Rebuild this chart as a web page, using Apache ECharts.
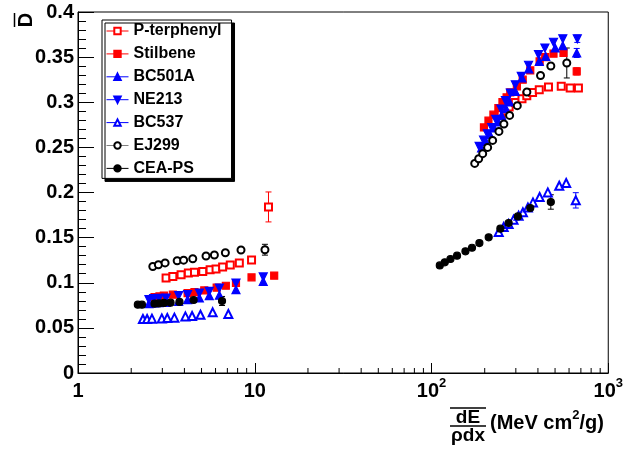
<!DOCTYPE html>
<html><head><meta charset="utf-8">
<script src="https://cdn.jsdelivr.net/npm/echarts@6/dist/echarts.min.js"></script>
<style>html,body{margin:0;padding:0;background:#fff}#c{width:626px;height:453px}</style>
</head><body><div id="c"></div>
<script>
// ---- data ----
const seriesNames = ['P-terphenyl', 'Stilbene', 'BC501A', 'NE213', 'BC537', 'EJ299', 'CEA-PS'];

const pterX = [3.15, 3.44, 3.83, 4.21, 4.56, 5.08, 5.59, 6.04, 6.58, 7.27, 8.18, 9.59, 11.96,
  248, 262, 275, 298, 325, 346, 373, 407, 459, 542, 609, 678];
const pterY = [0.1053, 0.107, 0.1089, 0.1108, 0.1115, 0.1126, 0.1145, 0.1152, 0.1174, 0.1197, 0.1219, 0.1252, 0.184,
  0.2865, 0.2906, 0.2947, 0.2998, 0.3039, 0.3073, 0.3109, 0.3139, 0.3169, 0.3176, 0.3158, 0.3158];
const pterErr = [[12, 0.0166]];

const stilX = [2.71, 2.89, 3.06, 3.44, 4.17, 4.56, 5.18, 6.09, 6.86, 7.83, 9.59, 12.88,
  198, 210, 224, 239, 252, 266, 279, 304, 328, 362, 409, 440, 490, 558, 663];
const stilY = [0.0842, 0.0849, 0.0857, 0.0868, 0.0886, 0.0897, 0.0915, 0.0945, 0.0967, 0.0997, 0.106, 0.1078,
  0.2721, 0.2796, 0.2862, 0.2936, 0.3003, 0.3054, 0.3109, 0.3176, 0.325, 0.3353, 0.3453, 0.350, 0.3538, 0.3546, 0.3342];
const stilErr = [[11, 0.003], [26, 0.004]];

const bc501X = [2.52, 2.68, 2.87, 3.15, 3.71, 4.17, 4.86, 5.53, 6.31, 7.83, 11.17,
  192, 203, 214, 226, 239, 249, 264, 276, 298, 325, 355, 407, 443, 501, 553, 663];
const bc501Y = [0.0768, 0.0776, 0.0779, 0.0782, 0.0793, 0.0812, 0.0831, 0.0857, 0.0862, 0.0923, 0.1015,
  0.2493, 0.2566, 0.264, 0.2715, 0.2781, 0.2854, 0.2929, 0.3003, 0.312, 0.3269, 0.337, 0.3453, 0.3508, 0.3601, 0.3627, 0.3546];
const bc501Err = [[26, 0.005]];

const ne213X = [2.52, 2.68, 2.87, 3.15, 3.71, 4.17, 4.86, 5.53, 6.31, 7.83, 11.17,
  186, 197, 207, 219, 231, 247, 262, 279, 298, 322, 354, 403, 438, 490, 553, 668];
const ne213Y = [0.0812, 0.0823, 0.0827, 0.0831, 0.0857, 0.0868, 0.0886, 0.0904, 0.0942, 0.0997, 0.1064,
  0.251, 0.258, 0.265, 0.272, 0.281, 0.2925, 0.3017, 0.3102, 0.3194, 0.3286, 0.341, 0.3527, 0.3601, 0.3665, 0.3703, 0.3703];
const ne213Err = [[26, 0.004]];

const bc537X = [2.33, 2.46, 2.62, 2.98, 3.20, 3.51, 4.05, 4.42, 4.93, 5.78, 7.09,
  240, 256, 273, 291, 311, 329, 351, 375, 409, 455, 528, 578, 655];
const bc537Y = [0.0598, 0.0598, 0.0602, 0.0605, 0.0609, 0.0613, 0.0627, 0.0631, 0.0646, 0.0672, 0.0654,
  0.1562, 0.1618, 0.1651, 0.1699, 0.1743, 0.178, 0.1835, 0.189, 0.195, 0.2001, 0.2075, 0.2105, 0.1913];
const bc537Err = [[23, 0.0085]];

const ej299X = [2.65, 2.85, 3.11, 3.64, 3.96, 4.46, 5.30, 5.91, 6.82, 8.36, 11.42,
  175.6, 184.9, 194.8, 207.8, 221.8, 240.7, 256.8, 276.6, 305.7, 346.4, 413.8, 473.2, 582.6];
const ej299Y = [0.118, 0.120, 0.122, 0.1244, 0.125, 0.1266, 0.1296, 0.1307, 0.1333, 0.1363, 0.1366,
  0.2322, 0.2374, 0.243, 0.250, 0.2577, 0.2677, 0.2759, 0.2854, 0.2962, 0.3114, 0.3297, 0.3402, 0.3435];
const ej299Err = [[10, 0.006], [23, 0.0166]];

const ceaX = [2.18, 2.30, 2.71, 2.87, 3.06, 3.34, 3.75, 4.51, 6.53,
  111.4, 118.9, 128, 139.5, 155.6, 169.5, 186.6, 210.6, 245.2, 273.1, 308.1, 362, 473.2];
const ceaY = [0.0757, 0.0757, 0.0768, 0.0771, 0.0776, 0.0779, 0.0787, 0.0809, 0.0798,
  0.1192, 0.1226, 0.1263, 0.13, 0.1348, 0.1388, 0.144, 0.1503, 0.1599, 0.1662, 0.1735, 0.1828, 0.1895];
const ceaErr = [[8, 0.005], [21, 0.008]];

const xTickValues = [1, 10, 100, 1000];
const xTickLabels = ['{n|1}', '{n|10}', '{n|10}{sup|2}', '{n|10}{sup|3}'];
const xMinorTicks = [2, 3, 4, 5, 6, 7, 8, 9, 20, 30, 40, 50, 60, 70, 80, 90, 200, 300, 400, 500, 600, 700, 800, 900];

// ---- chart ----
const FONT = '"Liberation Sans", Arial, Helvetica, sans-serif';
const pairs = (xs, ys) => xs.map((x, i) => [x, ys[i]]);
const errData = (xs, ys, errs) => errs.map(([i, e]) => [xs[i], ys[i], e]);

const defs = [
  {name: seriesNames[0], xs: pterX, ys: pterY, errs: pterErr, color: '#ff0000', line: '#ff0000', symbol: 'emptyRect', size: 7, rot: 0},
  {name: seriesNames[1], xs: stilX, ys: stilY, errs: stilErr, color: '#ff0000', line: '#ff0000', symbol: 'rect', size: 7, rot: 0},
  {name: seriesNames[2], xs: bc501X, ys: bc501Y, errs: bc501Err, color: '#0000ff', line: '#0000ff', symbol: 'triangle', size: 8, rot: 0},
  {name: seriesNames[3], xs: ne213X, ys: ne213Y, errs: ne213Err, color: '#0000ff', line: '#0000ff', symbol: 'triangle', size: 8, rot: 180},
  {name: seriesNames[4], xs: bc537X, ys: bc537Y, errs: bc537Err, color: '#0000ff', line: '#0000ff', symbol: 'emptyTriangle', size: 8, rot: 0},
  {name: seriesNames[5], xs: ej299X, ys: ej299Y, errs: ej299Err, color: '#000000', line: '#808080', symbol: 'emptyCircle', size: 7, rot: 0},
  {name: seriesNames[6], xs: ceaX, ys: ceaY, errs: ceaErr, color: '#000000', line: '#000000', symbol: 'circle', size: 7, rot: 0}
];

const series = [];
defs.forEach(d => {
  series.push({
    type: 'custom', name: d.name + '-err', silent: true, z: 1,
    data: errData(d.xs, d.ys, d.errs),
    encode: {x: 0, y: 1},
    renderItem: (params, api) => {
      const x = api.value(0), y = api.value(1), e = api.value(2);
      const top = api.coord([x, y + e]);
      const bot = api.coord([x, y - e]);
      const st = {stroke: d.color, lineWidth: 1};
      return {type: 'group', children: [
        {type: 'line', shape: {x1: top[0], y1: top[1], x2: bot[0], y2: bot[1]}, style: st},
        {type: 'line', shape: {x1: top[0] - 3, y1: top[1], x2: top[0] + 3, y2: top[1]}, style: st},
        {type: 'line', shape: {x1: bot[0] - 3, y1: bot[1], x2: bot[0] + 3, y2: bot[1]}, style: st}
      ]};
    }
  });
});
defs.forEach(d => {
  series.push({
    type: 'line', name: d.name, data: pairs(d.xs, d.ys),
    symbol: d.symbol, symbolSize: d.size, symbolRotate: d.rot, showSymbol: true,
    lineStyle: {width: 0, color: d.line},
    itemStyle: {color: d.color, borderColor: d.color, borderWidth: 1.2},
    emphasis: {disabled: true}, animation: false, z: 3
  });
});
// minor ticks on the log x axis
series.push({
  type: 'custom', name: 'xminor', silent: true, z: 5,
  data: xMinorTicks.map(v => [v, 0]),
  encode: {x: 0, y: 1},
  renderItem: (params, api) => {
    const p = api.coord([api.value(0), 0]);
    return {type: 'line', shape: {x1: p[0], y1: p[1], x2: p[0], y2: p[1] - 5}, style: {stroke: '#000', lineWidth: 1}};
  }
});

const chart = echarts.init(document.getElementById('c'), null, {renderer: 'canvas'});
chart.setOption({
  animation: false,
  backgroundColor: '#fff',
  grid: {left: 78, top: 12, right: 16, bottom: 80, show: true, borderColor: '#000', borderWidth: 1, backgroundColor: 'transparent'},
  xAxis: {
    type: 'log', logBase: 10, min: 1, max: 1000,
    axisLine: {show: true, lineStyle: {color: '#000', width: 1}},
    axisTick: {show: true, inside: true, length: 10, lineStyle: {color: '#000', width: 1}},
    splitLine: {show: false},
    axisLabel: {
      margin: 4, color: '#000', fontFamily: FONT, fontWeight: 'bold', fontSize: 20,
      formatter: v => { const i = xTickValues.findIndex(t => Math.abs(t - v) < 1e-6 * t); return i >= 0 ? xTickLabels[i] : ''; },
      rich: {
        n: {fontSize: 20, fontWeight: 'bold', fontFamily: FONT, color: '#000', lineHeight: 24, verticalAlign: 'bottom'},
        sup: {fontSize: 13, fontWeight: 'bold', fontFamily: FONT, color: '#000', lineHeight: 13, verticalAlign: 'top'}
      }
    }
  },
  yAxis: {
    type: 'value', min: 0, max: 0.4, interval: 0.05,
    axisLine: {show: true, lineStyle: {color: '#000', width: 1}},
    axisTick: {show: true, inside: true, length: 16, lineStyle: {color: '#000', width: 1}},
    minorTick: {show: true, splitNumber: 5, length: 8, lineStyle: {color: '#000', width: 1}},
    splitLine: {show: false},
    axisLabel: {margin: 4, color: '#000', fontFamily: FONT, fontWeight: 'bold', fontSize: 20}
  },
  legend: {
    data: seriesNames, orient: 'vertical', left: 102, top: 20,
    padding: [3, 10, 2, 4], itemGap: 6.9, itemWidth: 22, itemHeight: 8,
    backgroundColor: '#fff', borderColor: '#000', borderWidth: 1,
    shadowColor: '#000', shadowBlur: 0, shadowOffsetX: 3, shadowOffsetY: 3,
    selectedMode: false,
    lineStyle: {width: 1},
    textStyle: {fontFamily: FONT, fontWeight: 'bold', fontSize: 16, lineHeight: 16, color: '#000', padding: [0, 0, 0, 0]}
  },
  graphic: [
    {type: 'text', x: 26, y: 20, rotation: Math.PI / 2, style: {text: 'D', font: 'bold 20px ' + FONT, fill: '#000', align: 'center', verticalAlign: 'middle'}},
    {type: 'line', shape: {x1: 14.5, y1: 13, x2: 14.5, y2: 27}, style: {stroke: '#000', lineWidth: 1.5}},
    {type: 'line', shape: {x1: 450, y1: 408, x2: 486, y2: 408}, style: {stroke: '#000', lineWidth: 1.5}},
    {type: 'text', x: 468, y: 417.5, style: {text: 'dE', font: 'bold 19px ' + FONT, fill: '#000', align: 'center', verticalAlign: 'middle'}},
    {type: 'line', shape: {x1: 450, y1: 426, x2: 486, y2: 426}, style: {stroke: '#000', lineWidth: 1.5}},
    {type: 'text', x: 468, y: 435.5, style: {text: 'ρdx', font: 'bold 19px ' + FONT, fill: '#000', align: 'center', verticalAlign: 'middle'}},
    {type: 'text', x: 490, y: 421, style: {
      text: '{m|(MeV cm}{s|2}{m|/g)}', align: 'left', verticalAlign: 'middle',
      rich: {
        m: {fontSize: 20, fontWeight: 'bold', fontFamily: FONT, fill: '#000', lineHeight: 24, verticalAlign: 'bottom'},
        s: {fontSize: 13, fontWeight: 'bold', fontFamily: FONT, fill: '#000', lineHeight: 13, verticalAlign: 'top'}
      }
    }}
  ],
  series: series
});
</script>
</body></html>
